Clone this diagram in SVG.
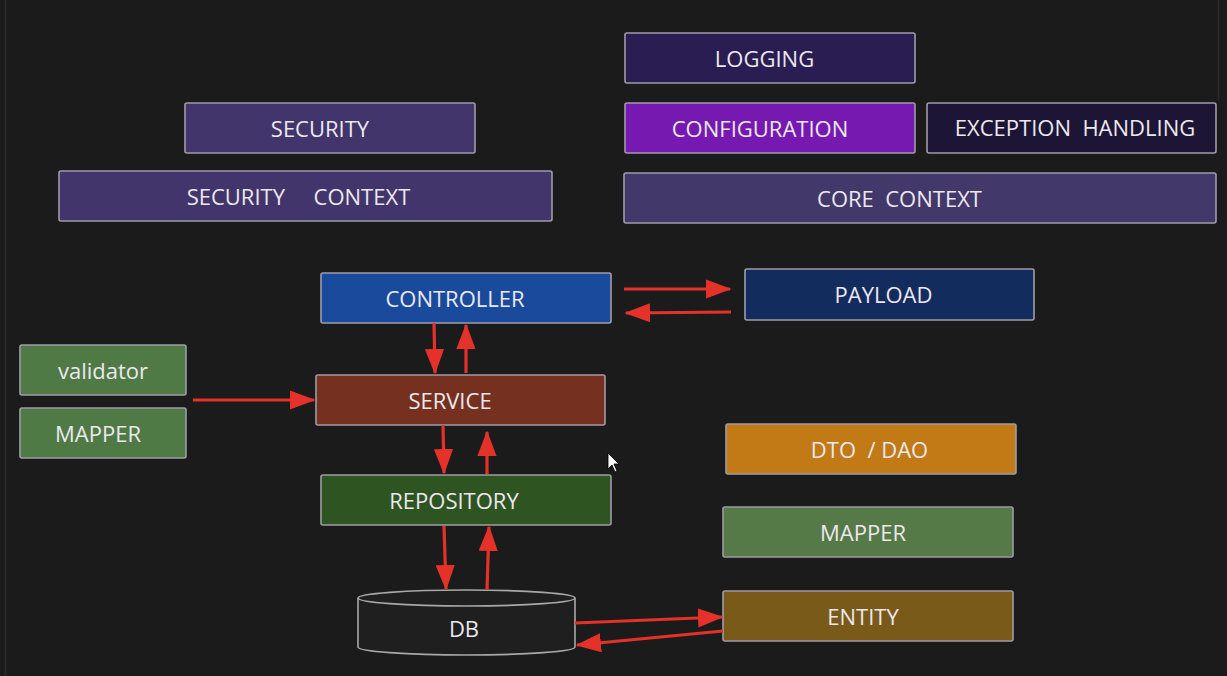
<svg xmlns="http://www.w3.org/2000/svg" width="1227" height="676" viewBox="0 0 1227 676">
<style>
.box{stroke:#a09ca8;stroke-width:1.6}
.t{font-family:"Open Sans","Noto Sans",sans-serif;font-size:22px;fill:#ece8ee;text-anchor:middle;dominant-baseline:central}
.ln{stroke:#e4322a;stroke-width:3.2;fill:none}
</style>
<defs>
<marker id="ah" markerWidth="8" markerHeight="6" refX="7.5" refY="3" orient="auto" markerUnits="strokeWidth">
<path d="M0,0 L8,3 L0,6 Z" fill="#e4322a"/>
</marker>
</defs>
<rect width="1227" height="676" fill="#1b1b1b"/>
<path d="M5.5,0 V676 M1218.5,0 V100" stroke="#2c2c2c" stroke-width="1.5" fill="none"/>

<g id="logging"><rect class="box" x="625" y="33" width="290" height="50" rx="2" fill="#2a1d52"/><text class="t" x="764.5" y="58">LOGGING</text></g>
<g id="security"><rect class="box" x="185" y="103" width="290" height="50" rx="2" fill="#41356b"/><text class="t" x="320" y="128">SECURITY</text></g>
<g id="configuration"><rect class="box" x="625" y="103" width="290" height="50" rx="2" fill="#7519b0"/><text class="t" x="760" y="128">CONFIGURATION</text></g>
<g id="exception-handling"><rect class="box" x="927" y="103" width="289" height="50" rx="2" fill="#1c1536"/><text class="t" x="1075" y="127" xml:space="preserve">EXCEPTION  HANDLING</text></g>
<g id="security-context"><rect class="box" x="59" y="171" width="493" height="50" rx="2" fill="#41356b"/><text class="t" x="298.5" y="196" xml:space="preserve">SECURITY     CONTEXT</text></g>
<g id="core-context"><rect class="box" x="624" y="173" width="592" height="50" rx="2" fill="#42386a"/><text class="t" x="899.5" y="198" xml:space="preserve">CORE  CONTEXT</text></g>
<g id="controller"><rect class="box" x="321" y="273" width="290" height="50" rx="2" fill="#1a4a9c"/><text class="t" x="455" y="298">CONTROLLER</text></g>
<g id="payload"><rect class="box" x="745" y="269" width="289" height="51" rx="2" fill="#132c5e"/><text class="t" x="883.5" y="294">PAYLOAD</text></g>
<g id="validator"><rect class="box" x="20" y="345" width="166" height="50" rx="2" fill="#4f7a45"/><text class="t" x="103" y="370">validator</text></g>
<g id="mapper-left"><rect class="box" x="20" y="408" width="166" height="50" rx="2" fill="#4f7a45"/><text class="t" x="98" y="433">MAPPER</text></g>
<g id="service"><rect class="box" x="316" y="375" width="289" height="50" rx="2" fill="#76301f"/><text class="t" x="450" y="400">SERVICE</text></g>
<g id="dto-dao"><rect class="box" x="726" y="424" width="290" height="50" rx="2" fill="#c17a16"/><text class="t" x="869.5" y="449" xml:space="preserve">DTO  / DAO</text></g>
<g id="repository"><rect class="box" x="321" y="475" width="290" height="50" rx="2" fill="#2e5422"/><text class="t" x="454" y="500">REPOSITORY</text></g>
<g id="mapper-right"><rect class="box" x="723" y="507" width="290" height="50" rx="2" fill="#557a48"/><text class="t" x="863" y="532">MAPPER</text></g>
<g id="entity"><rect class="box" x="723" y="591" width="290" height="50" rx="2" fill="#7a5a18"/><text class="t" x="863" y="616">ENTITY</text></g>
<g id="db">
<path d="M358,598 V647 A108.5,8 0 0 0 575,647 V598" fill="#1f1f1f" stroke="#a8a8a8" stroke-width="1.6"/>
<ellipse cx="466.5" cy="598" rx="108.5" ry="8" fill="#1f1f1f" stroke="#a8a8a8" stroke-width="1.6"/>
<text class="t" x="464" y="628">DB</text>
</g>

<g id="connectors">
<line class="ln" x1="624" y1="289" x2="730" y2="289" marker-end="url(#ah)"/>
<line class="ln" x1="731" y1="312" x2="626" y2="313" marker-end="url(#ah)"/>
<line class="ln" x1="434" y1="323" x2="435" y2="373" marker-end="url(#ah)"/>
<line class="ln" x1="466" y1="373" x2="466" y2="325" marker-end="url(#ah)"/>
<line class="ln" x1="193" y1="400" x2="314" y2="400" marker-end="url(#ah)"/>
<line class="ln" x1="443" y1="425" x2="444" y2="473" marker-end="url(#ah)"/>
<line class="ln" x1="487" y1="474" x2="487" y2="432" marker-end="url(#ah)"/>
<line class="ln" x1="444" y1="526" x2="446" y2="589" marker-end="url(#ah)"/>
<line class="ln" x1="487" y1="590" x2="489" y2="527" marker-end="url(#ah)"/>
<line class="ln" x1="575" y1="623" x2="722" y2="617" marker-end="url(#ah)"/>
<line class="ln" x1="723" y1="631" x2="577" y2="645" marker-end="url(#ah)"/>
</g>
<path d="M608,453 V469 L612,465 L615,472 L617,471 L614,464 L619,464 Z" fill="#fff" stroke="#000" stroke-width="0.8"/>
</svg>
